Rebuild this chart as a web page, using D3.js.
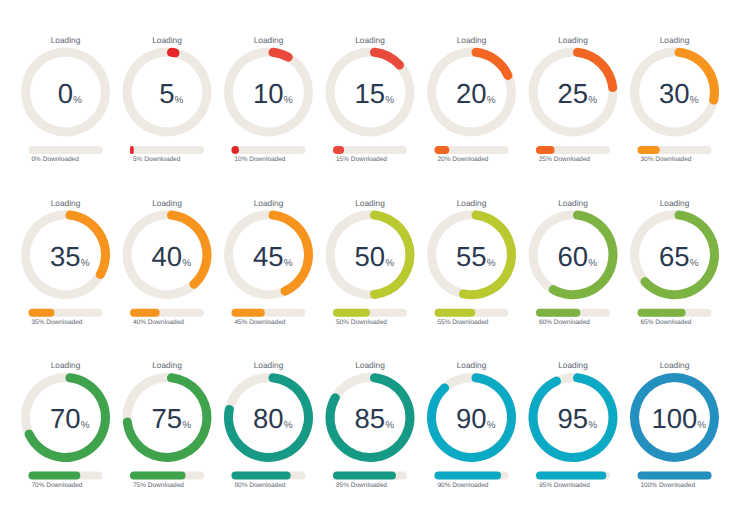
<!DOCTYPE html>
<html>
<head>
<meta charset="utf-8">
<script src="https://cdn.jsdelivr.net/npm/d3@7"></script>
<style>
  html, body { margin: 0; padding: 0; background: #fff; }
  text { font-family: "Liberation Sans", Arial, sans-serif; text-rendering: geometricPrecision; }
</style>
</head>
<body>
<svg id="chart"></svg>
<script>
const percents = [0, 5, 10, 15, 20, 25, 30, 35, 40, 45, 50, 55, 60, 65, 70, 75, 80, 85, 90, 95, 100];
const arcColors = ["#e8262a", "#e8262a", "#e9483a", "#ea4a3c", "#f26522", "#f26522", "#f7941e", "#f7941e", "#f7941e", "#f7941e",
    "#b9c92f", "#b9c92f", "#7cb342", "#7cb342", "#3fa34d", "#3fa34d", "#169a85", "#169a85", "#0ba9c4", "#0ba9c4", "#2490c0"];
const barColors = ["#e8262a", "#e8262a", "#de2a26", "#ea4a3c", "#f26522", "#f26522", "#f7941e", "#f7941e", "#f7941e", "#f7941e",
    "#b9c92f", "#b9c92f", "#7cb342", "#7cb342", "#3fa34d", "#3fa34d", "#169a85", "#169a85", "#0ba9c4", "#0ba9c4", "#2490c0"];
const titleLabel = "Loading";
const barSuffix = "% Downloaded";

const width = 740, height = 523;
const numCols = 7;
const track = "#eee9e2";
const ink = "#2a3950";
const soft = "#5c6570";

const svg = d3.select("#chart").attr("width", width).attr("height", height);

// ring and bar share the same per-cell scales
const colX = d3.scaleLinear().domain([0, 6]).range([65.5, 674.5]);
const rowY = d3.scaleLinear().domain([0, 2]).range([92, 417.5]);
const angle = d3.scaleLinear().domain([0, 100]).range([0, 2 * Math.PI]);
const barW = d3.scaleLinear().domain([0, 100]).range([0, 74]);

const ring = d3.arc().innerRadius(35.5).outerRadius(44.5).startAngle(0);

const cell = svg.selectAll(".cell")
    .data(percents.map((p, i) => ({ p, i })))
    .enter().append("g")
    .attr("class", "cell")
    .attr("transform", d => `translate(${colX(d.i % numCols)},${rowY(Math.floor(d.i / numCols))})`);

cell.append("text")
    .attr("y", -49.2)
    .attr("text-anchor", "middle")
    .attr("font-size", 8.3)
    .attr("fill", soft)
    .text(titleLabel);

cell.append("path")
    .attr("d", ring.cornerRadius(0)({ endAngle: 2 * Math.PI }))
    .attr("fill", track);

cell.filter(d => d.p > 0).append("path")
    .attr("d", d => ring.cornerRadius(d.p === 100 ? 0 : 4.5)({ endAngle: angle(d.p) }))
    .attr("fill", d => arcColors[d.i]);

const big = cell.append("text")
    .attr("x", 4.3)
    .attr("y", 10.8)
    .attr("text-anchor", "middle")
    .attr("fill", ink);
big.append("tspan").attr("font-size", 27.5).text(d => d.p);
big.append("tspan").attr("font-size", 10).attr("fill", soft).text("%");

cell.append("rect")
    .attr("x", -37).attr("y", 54)
    .attr("width", barW(100)).attr("height", 8)
    .attr("rx", 4)
    .attr("fill", track);

cell.filter(d => d.p > 0).append("rect")
    .attr("x", -37).attr("y", 54)
    .attr("width", d => barW(d.p)).attr("height", 8)
    .attr("rx", d => Math.min(4, barW(d.p) / 2))
    .attr("fill", d => barColors[d.i]);

cell.append("text")
    .attr("x", -34)
    .attr("y", 69)
    .attr("font-size", 6.5)
    .attr("fill", soft)
    .text(d => d.p + barSuffix);
</script>
</body>
</html>
